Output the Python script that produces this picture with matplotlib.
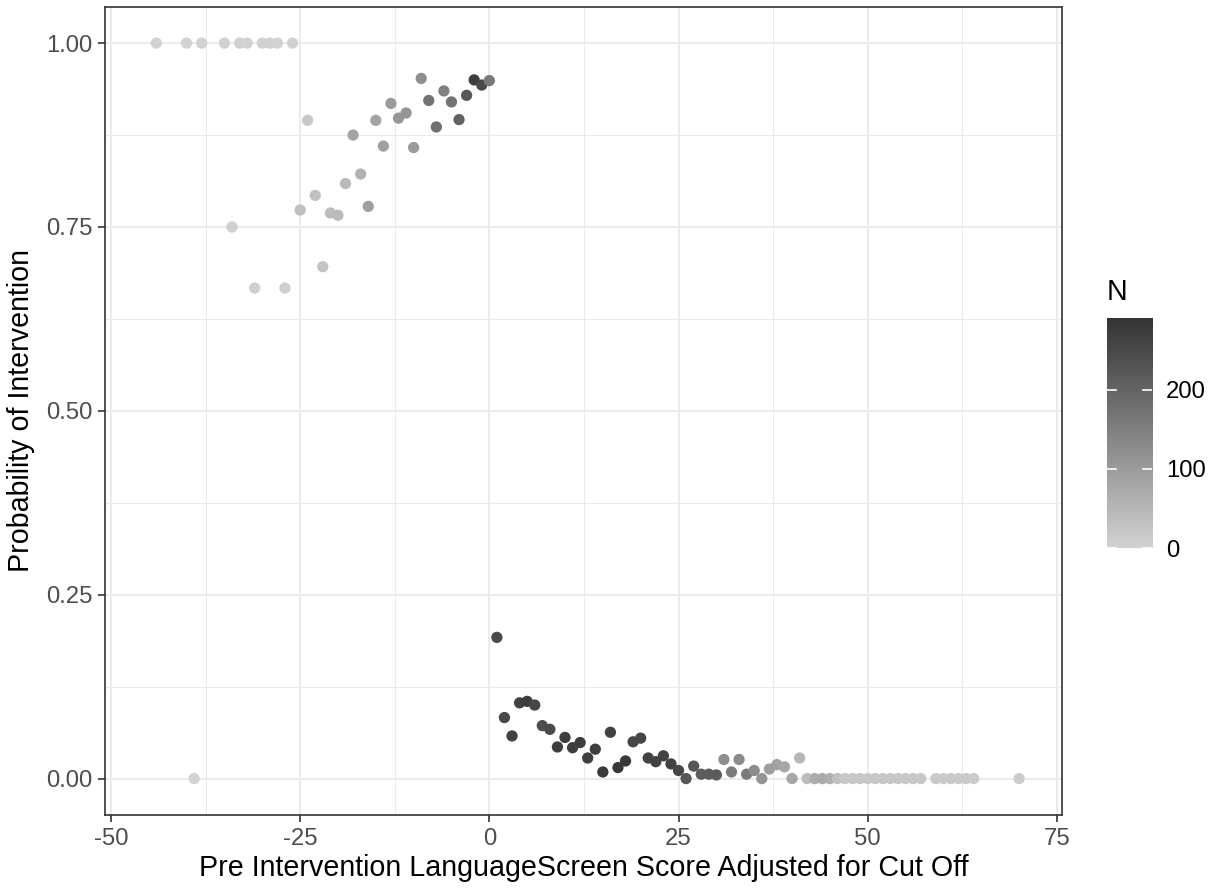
import matplotlib
matplotlib.use("Agg")
import matplotlib.pyplot as plt
import numpy as np
from matplotlib.colors import LinearSegmentedColormap, Normalize
from matplotlib.ticker import MultipleLocator

# ---- data ----
x_vals = [-44, -40, -38, -35, -33, -32, -30, -29, -28, -26,
          -39, -34, -31, -27, -24, -25, -23, -22, -21, -20,
          -19, -18, -17, -16, -15, -14, -13, -12, -11, -10,
          -9, -8, -7, -6, -5, -4, -3, -2, -1, 0,
          1, 2, 3, 4, 5, 6, 7, 8, 9, 10,
          11, 12, 13, 14, 15, 16, 17, 18, 19, 20,
          21, 22, 23, 24, 25, 26, 27, 28, 29, 30,
          31, 32, 33, 34, 35, 36, 37, 38, 39, 40, 41,
          42, 43, 44, 45, 46, 47, 48, 49, 50, 51, 52, 53, 54, 55, 56, 57,
          59, 60, 61, 62, 63, 64, 70]
prob_vals = [1.0, 1.0, 1.0, 1.0, 1.0, 1.0, 1.0, 1.0, 1.0, 1.0,
             0.0, 0.75, 0.667, 0.667, 0.895, 0.773, 0.793, 0.696, 0.769, 0.766,
             0.809, 0.875, 0.822, 0.778, 0.895, 0.860, 0.918, 0.898, 0.905, 0.858,
             0.952, 0.922, 0.886, 0.935, 0.920, 0.896, 0.929, 0.950, 0.943, 0.949,
             0.192, 0.083, 0.058, 0.103, 0.105, 0.100, 0.072, 0.067, 0.043, 0.056,
             0.042, 0.049, 0.028, 0.040, 0.009, 0.063, 0.015, 0.024, 0.050, 0.055,
             0.028, 0.023, 0.031, 0.020, 0.011, 0.0, 0.017, 0.006, 0.006, 0.005,
             0.026, 0.009, 0.026, 0.006, 0.011, 0.0, 0.013, 0.019, 0.016, 0.0, 0.028,
             0.0, 0.0, 0.0, 0.0, 0.0, 0.0, 0.0, 0.0, 0.0, 0.0, 0.0, 0.0, 0.0, 0.0, 0.0, 0.0,
             0.0, 0.0, 0.0, 0.0, 0.0, 0.0, 0.0]
n_vals = [2, 1, 1, 3, 2, 1, 3, 2, 1, 4,
          1, 4, 6, 6, 19, 35, 33, 28, 39, 40,
          44, 83, 59, 92, 83, 89, 100, 109, 109, 103,
          122, 174, 181, 148, 174, 203, 222, 270, 248, 163,
          245, 250, 262, 262, 270, 255, 240, 248, 270, 270,
          270, 270, 270, 270, 275, 262, 278, 278, 255, 255,
          262, 262, 262, 262, 255, 225, 225, 216, 216, 216,
          122, 159, 129, 159, 129, 109, 92, 89, 79, 79, 50,
          40, 70, 75, 65, 35, 20, 20, 20, 20, 20, 20, 20, 20, 20, 20, 20,
          15, 15, 15, 15, 15, 15, 12]

x_ticks = [-50, -25, 0, 25, 50, 75]
y_ticks = [0.0, 0.25, 0.5, 0.75, 1.0]
y_ticklabels = ["0.00", "0.25", "0.50", "0.75", "1.00"]
cbar_ticks = [0, 100, 200]

plt.rcParams['font.family'] = ['Liberation Sans', 'DejaVu Sans']

W, H = 1215, 888
fig = plt.figure(figsize=(W / 100, H / 100), dpi=100)

ax = fig.add_axes([105.3 / W, 1 - 815 / H, (1062 - 105.3) / W, (815 - 6.7) / H])

cmap = LinearSegmentedColormap.from_list("greys", ["#D2D2D2", "#333333"])
norm = Normalize(vmin=0, vmax=290)

ax.set_xlim(-50.74, 75.67)
ax.set_ylim(-0.0495, 1.0495)
ax.xaxis.set_minor_locator(MultipleLocator(12.5))
ax.set_yticks(y_ticks)
ax.set_yticklabels(y_ticklabels)
ax.yaxis.set_minor_locator(MultipleLocator(0.125))
ax.set_xticks(x_ticks)
ax.set_xticklabels([str(t) for t in x_ticks])

ax.grid(True, which='major', color='#EBEBEB', linewidth=1.4)
ax.grid(True, which='minor', color='#EBEBEB', linewidth=0.75)
ax.set_axisbelow(True)

ax.scatter(x_vals, prob_vals, c=n_vals, cmap=cmap, norm=norm, s=66,
           edgecolors='none', zorder=3)

for sp in ax.spines.values():
    sp.set_color('#333333')
    sp.set_linewidth(1.2)

ax.tick_params(which='major', length=5, width=1.2, color='#333333',
               labelcolor='#4D4D4D', labelsize=17.2, pad=4)
ax.tick_params(which='minor', length=0)

ax.set_xlabel("Pre Intervention LanguageScreen Score Adjusted for Cut Off",
              fontsize=20.6, color='black', labelpad=3)
ax.set_ylabel("Probability of Intervention", fontsize=20.6, color='black',
              labelpad=8)

# colorbar
cax = fig.add_axes([1106.7 / W, 1 - 548 / H, 45.6 / W, (548 - 318.3) / H])
grad = np.linspace(0, 290, 256).reshape(-1, 1)
cax.imshow(grad, aspect='auto', cmap=cmap, norm=norm, origin='lower',
           extent=[0, 1, 0, 290])
cax.set_xlim(0, 1)
cax.set_ylim(0, 290)
for t in cbar_ticks:
    cax.plot([0, 0.2], [t, t], color='white', lw=1.2)
    cax.plot([0.8, 1], [t, t], color='white', lw=1.2)
for sp in cax.spines.values():
    sp.set_visible(False)
cax.set_xticks([])
cax.yaxis.tick_right()
cax.set_yticks(cbar_ticks)
cax.set_yticklabels([str(t) for t in cbar_ticks])
cax.tick_params(axis='y', length=0, labelsize=17.2, labelcolor='black', pad=10)
fig.text(1106.7 / W, 1 - 300 / H, "N", fontsize=20.6, ha='left', va='baseline')

fig.savefig("out.png", dpi=100)
